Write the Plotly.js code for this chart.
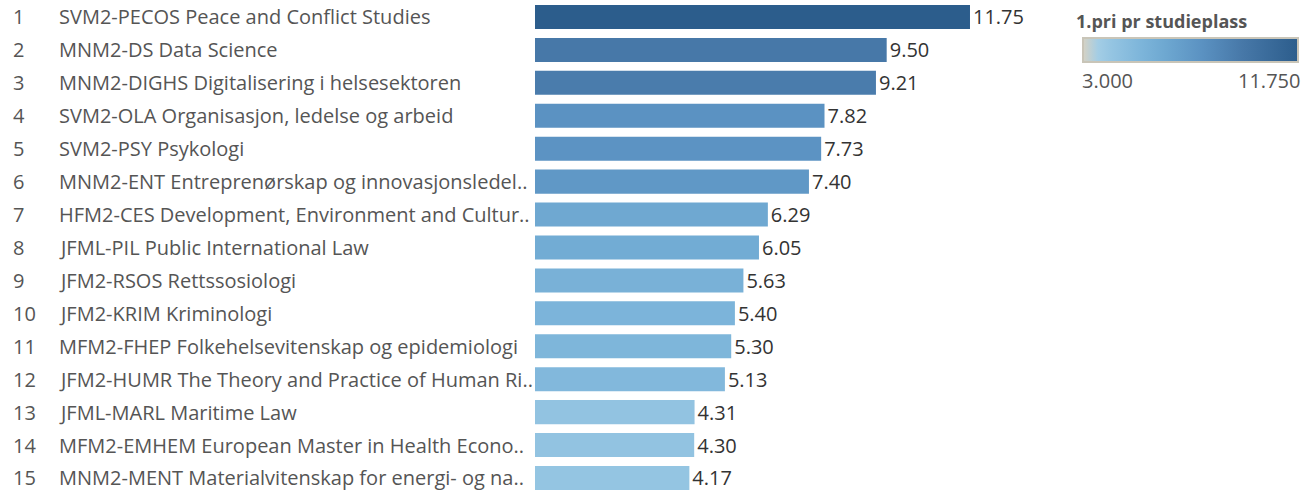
<!DOCTYPE html>
<html>
<head>
<meta charset="utf-8">
<script src="https://cdn.plot.ly/plotly-3.0.1.min.js"></script>
<style>html,body{margin:0;padding:0;background:#fff;}#chart{width:1312px;height:491px;}</style>
</head>
<body>
<div id="chart"></div>
<script>
const ranks = ["1","2","3","4","5","6","7","8","9","10","11","12","13","14","15"];
const programs = [
  "SVM2-PECOS Peace and Conflict Studies",
  "MNM2-DS Data Science",
  "MNM2-DIGHS Digitalisering i helsesektoren",
  "SVM2-OLA Organisasjon, ledelse og arbeid",
  "SVM2-PSY Psykologi",
  "MNM2-ENT Entreprenørskap og innovasjonsledel..",
  "HFM2-CES Development, Environment and Cultur..",
  "JFML-PIL Public International Law",
  "JFM2-RSOS Rettssosiologi",
  "JFM2-KRIM Kriminologi",
  "MFM2-FHEP Folkehelsevitenskap og epidemiologi",
  "JFM2-HUMR The Theory and Practice of Human Ri..",
  "JFML-MARL Maritime Law",
  "MFM2-EMHEM European Master in Health Econo..",
  "MNM2-MENT Materialvitenskap for energi- og na.."
];
const values = [11.75, 9.50, 9.21, 7.82, 7.73, 7.40, 6.29, 6.05, 5.63, 5.40, 5.30, 5.13, 4.31, 4.30, 4.17];
const legendTitle = "1.pri pr studieplass";
const legendMin = 3.0;
const legendMax = 11.75;
const legendTickText = ["3.000", "11.750"];

const W = 1312, H = 491;
const L = 535;
const pxPerUnit = 37.02;
const plotW = W - L;
const rowIdx = values.map((v, i) => i);

const colorscale = [
  [0.0, "#d6d2c4"],
  [0.07, "#a3cde5"],
  [0.13, "#95c5e2"],
  [0.27, "#7db5da"],
  [0.38, "#6ea8d1"],
  [0.55, "#5b92c2"],
  [0.74, "#4778a8"],
  [1.0, "#2c5d8c"]
];

const font = "Open Sans, Noto Sans, Arial, sans-serif";

const bars = {
  type: "bar",
  orientation: "h",
  y: rowIdx,
  x: values,
  width: 0.73,
  marker: {
    color: values,
    colorscale: colorscale,
    cmin: legendMin,
    cmax: legendMax,
    line: {width: 0},
    showscale: true,
    colorbar: {
      orientation: "h",
      xref: "paper", yref: "paper",
      x: (1083 - L) / plotW, xanchor: "left",
      y: 1 - 38 / H, yanchor: "top",
      lenmode: "pixels", len: 215,
      thicknessmode: "pixels", thickness: 24,
      xpad: 0, ypad: 0,
      outlinecolor: "#c9c5b8", outlinewidth: 2,
      showticklabels: false, ticks: "",
      title: {text: ""}
    }
  },
  text: values.map(v => v.toFixed(2)),
  texttemplate: "%{text}",
  textposition: "outside",
  constraintext: "none",
  cliponaxis: false,
  textfont: {family: font, size: 20, color: "#333333"},
  hoverinfo: "skip"
};

const annotations = [];
rowIdx.forEach(i => {
  annotations.push({
    xref: "paper", yref: "y",
    x: (11 - L) / plotW, y: i,
    xanchor: "left", yanchor: "middle",
    text: ranks[i], showarrow: false,
    font: {family: font, size: 20, color: "#555555"}
  });
  annotations.push({
    xref: "paper", yref: "y",
    x: (57 - L) / plotW, y: i,
    xanchor: "left", yanchor: "middle",
    text: programs[i], showarrow: false,
    font: {family: font, size: 20, color: "#555555"}
  });
});
annotations.push({
  xref: "paper", yref: "paper",
  x: (1074 - L) / plotW, y: 1 - 21 / H,
  xanchor: "left", yanchor: "middle",
  text: "<b>" + legendTitle + "</b>", showarrow: false,
  font: {family: font, size: 18, color: "#555555"}
});
annotations.push({
  xref: "paper", yref: "paper",
  x: (1080 - L) / plotW, y: 1 - 80 / H,
  xanchor: "left", yanchor: "middle",
  text: legendTickText[0], showarrow: false,
  font: {family: font, size: 20, color: "#555555"}
});
annotations.push({
  xref: "paper", yref: "paper",
  x: (1302 - L) / plotW, y: 1 - 80 / H,
  xanchor: "right", yanchor: "middle",
  text: legendTickText[1], showarrow: false,
  font: {family: font, size: 20, color: "#555555"}
});

const layout = {
  width: W, height: H,
  margin: {l: L, r: 0, t: 0, b: 0, pad: 0, autoexpand: false},
  paper_bgcolor: "#ffffff", plot_bgcolor: "rgba(0,0,0,0)",
  showlegend: false,
  xaxis: {range: [0, plotW / pxPerUnit], visible: false, fixedrange: true},
  yaxis: {range: [14.395, -0.516], visible: false, fixedrange: true},
  annotations: annotations,
  font: {family: font}
};

Plotly.newPlot("chart", [bars], layout, {displayModeBar: false, staticPlot: true});
</script>
</body>
</html>
